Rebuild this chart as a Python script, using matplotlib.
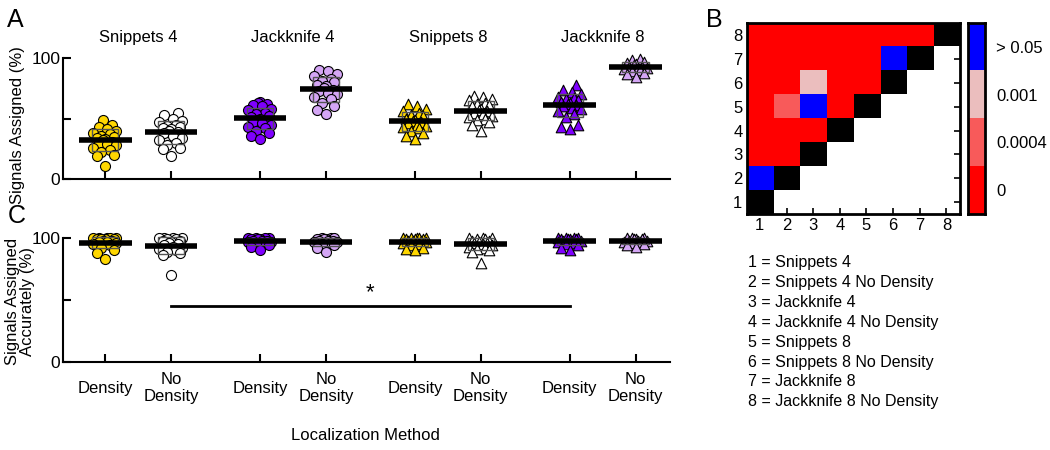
import matplotlib
matplotlib.use("Agg")
import matplotlib.pyplot as plt
import numpy as np
from matplotlib.colors import ListedColormap

plt.rcParams['font.family'] = ['Liberation Sans', 'DejaVu Sans']

# groups (order of the 8 columns)
group_names = ['Snippets 4', 'Jackknife 4', 'Snippets 8', 'Jackknife 8']
tick_labels = ['Density', 'No\nDensity'] * 4
face_colors = ['#FFD700', 'white', '#7F00FF', '#D4A6F5',
               '#FFD700', 'white', '#7F00FF', '#D4A6F5']
markers = ['o', 'o', 'o', 'o', '^', '^', '^', '^']

# panel A: signals assigned (%)
assigned_s4 = [49, 45, 43, 41, 40, 38, 37, 36, 35, 34, 33, 32, 31, 30, 29, 28, 26, 24, 22, 20, 19, 11]
assigned_s4_nd = [55, 53, 50, 48, 47, 45, 44, 43, 42, 41, 40, 39, 38, 36, 34, 32, 30, 28, 26, 25, 19]
assigned_j4 = [64, 63, 62, 61, 60, 58, 57, 55, 54, 52, 51, 50, 49, 48, 47, 46, 45, 43, 42, 40, 38, 36, 33]
assigned_j4_nd = [90, 89, 87, 85, 83, 81, 80, 78, 77, 75, 74, 73, 71, 70, 68, 66, 63, 60, 57, 54]
assigned_s8 = [62, 60, 58, 56, 55, 53, 52, 50, 49, 48, 47, 46, 45, 44, 43, 42, 40, 38, 36, 33]
assigned_s8_nd = [69, 68, 66, 65, 63, 62, 61, 60, 58, 57, 56, 55, 54, 52, 51, 50, 49, 47, 45, 40]
assigned_j8 = [78, 74, 72, 70, 68, 67, 66, 65, 64, 63, 62, 61, 60, 59, 58, 56, 54, 51, 45, 43, 41]
assigned_j8_nd = [99, 98, 97, 96, 95, 94, 93, 93, 92, 92, 91, 90, 89, 88, 87, 84]

# panel C: signals assigned accurately (%)
accurate_s4 = [100, 100, 100, 100, 100, 99, 99, 99, 99, 98, 98, 97, 97, 96, 95, 94, 92, 90, 88, 83]
accurate_s4_nd = [100, 100, 100, 100, 99, 99, 98, 98, 97, 96, 95, 94, 93, 92, 91, 90, 89, 88, 86, 70]
accurate_j4 = [100, 100, 100, 100, 99, 99, 99, 98, 98, 98, 97, 97, 96, 95, 94, 93, 90]
accurate_j4_nd = [100, 100, 100, 99, 99, 99, 98, 98, 98, 97, 97, 96, 95, 94, 92, 89]
accurate_s8 = [100, 100, 100, 100, 100, 99, 99, 99, 98, 98, 98, 97, 97, 96, 95, 94, 92, 91, 90]
accurate_s8_nd = [100, 100, 100, 99, 99, 98, 98, 97, 97, 96, 96, 95, 94, 93, 92, 91, 90, 89, 80]
accurate_j8 = [100, 100, 100, 100, 99, 99, 99, 99, 98, 98, 98, 97, 96, 95, 94, 92, 90]
accurate_j8_nd = [100, 100, 100, 99, 99, 99, 98, 98, 98, 97, 97, 96, 95, 94, 93]

assigned = [assigned_s4, assigned_s4_nd, assigned_j4, assigned_j4_nd,
            assigned_s8, assigned_s8_nd, assigned_j8, assigned_j8_nd]
accurate = [accurate_s4, accurate_s4_nd, accurate_j4, accurate_j4_nd,
            accurate_s8, accurate_s8_nd, accurate_j8, accurate_j8_nd]

# significance bar in C: between column 2 and column 7
sig_pair = (1, 6)
sig_level = 45

# panel B: pairwise p value category (rows = y 1..8, cols = x 1..8)
# 0 -> "0", 1 -> "0.0004", 2 -> "0.001", 3 -> "> 0.05", 4 -> diagonal, nan -> blank
nan = np.nan
p_matrix = [
    [4, nan, nan, nan, nan, nan, nan, nan],
    [3, 4, nan, nan, nan, nan, nan, nan],
    [0, 0, 4, nan, nan, nan, nan, nan],
    [0, 0, 0, 4, nan, nan, nan, nan],
    [0, 1, 3, 0, 4, nan, nan, nan],
    [0, 0, 2, 0, 0, 4, nan, nan],
    [0, 0, 0, 0, 0, 3, 4, nan],
    [0, 0, 0, 0, 0, 0, 0, 4],
]
p_labels = ['0', '0.0004', '0.001', '> 0.05']
p_colors = ['#FF0000', '#F85A5A', '#EBBEBE', '#0000FF']
legend_lines = ['1 = Snippets 4', '2 = Snippets 4 No Density', '3 = Jackknife 4',
                '4 = Jackknife 4 No Density', '5 = Snippets 8', '6 = Snippets 8 No Density',
                '7 = Jackknife 8', '8 = Jackknife 8 No Density']

xpos = np.array([0, 1, 2.35, 3.35, 4.7, 5.7, 7.05, 8.05])
pattern = np.array([0.0, -0.13, 0.13, -0.06, 0.07, -0.18, 0.17, 0.03, -0.1, 0.1, -0.03])


def spread(vals):
    order = np.argsort(vals)
    offs = np.zeros(len(vals))
    offs[order] = pattern[np.arange(len(vals)) % len(pattern)]
    return offs


def draw_groups(ax, data):
    for i, vals in enumerate(data):
        vals = np.array(vals, dtype=float)
        m, sd = vals.mean(), vals.std()
        x0 = xpos[i]
        ax.add_patch(plt.Rectangle((x0 - 0.2, m - sd), 0.4, 2 * sd, facecolor='#E6E6E6',
                                   edgecolor='none', zorder=1, clip_on=False))
        ax.scatter(x0 + spread(vals), vals, s=52 if markers[i] == 'o' else 58, marker=markers[i],
                   facecolor=face_colors[i], edgecolor='black', linewidth=0.8, zorder=2, clip_on=False)
        ax.add_patch(plt.Rectangle((x0 - 0.2, m - sd), 0.4, 2 * sd, facecolor='none',
                                   edgecolor='#555555', linewidth=1, zorder=3, clip_on=False))
        ax.plot([x0 - 0.4, x0 + 0.4], [m, m], color='black', linewidth=4, solid_capstyle='butt', zorder=4)


def style_axis(ax):
    ax.set_xlim(-0.64, 8.57)
    ax.set_ylim(0, 100)
    ax.spines['top'].set_visible(False)
    ax.spines['right'].set_visible(False)
    ax.spines['left'].set_linewidth(1.5)
    ax.spines['bottom'].set_linewidth(1.5)
    ax.set_yticks([0, 50, 100])
    ax.set_yticklabels(['0', '', '100'], fontsize=12.5)
    ax.set_xticks(xpos)
    ax.tick_params(direction='in', length=6, width=1.5, pad=2)


fig = plt.figure(figsize=(10.5, 4.5), dpi=100)

# panel A
axA = fig.add_axes([0.060, 0.602, 0.578, 0.269])
draw_groups(axA, assigned)
style_axis(axA)
axA.set_xticklabels([])
for k, name in enumerate(group_names):
    axA.text((xpos[2 * k] + xpos[2 * k + 1]) / 2, 1.17, name, transform=axA.get_xaxis_transform(),
             ha='center', va='center', fontsize=12)
fig.text(0.017, 0.722, 'Signals Assigned (%)', rotation=90, ha='center', va='center', fontsize=12)
fig.text(0.007, 0.955, 'A', fontsize=18, ha='left', va='center')

# panel C
axC = fig.add_axes([0.060, 0.196, 0.578, 0.275])
draw_groups(axC, accurate)
style_axis(axC)
axC.set_xticklabels(tick_labels, fontsize=12)
for lab in axC.get_xticklabels():
    lab.set_verticalalignment('center')
axC.tick_params(axis='x', pad=19)
a, b = sig_pair
axC.plot([xpos[a], xpos[b]], [sig_level, sig_level], color='black', linewidth=2)
axC.text((xpos[a] + xpos[b]) / 2, sig_level + 2, '*', ha='center', va='bottom', fontsize=16)
fig.text(0.019, 0.331, 'Signals Assigned\nAccurately (%)', rotation=90, ha='center', va='center',
         fontsize=12, multialignment='center', linespacing=1.0)
fig.text(0.348, 0.033, 'Localization Method', ha='center', va='center', fontsize=12)
fig.text(0.007, 0.52, 'C', fontsize=18, ha='left', va='center')

# panel B
axB = fig.add_axes([0.711, 0.524, 0.203, 0.425])
cmap = ListedColormap(p_colors + ['black'])
cmap.set_bad('white')
axB.imshow(np.ma.masked_invalid(np.array(p_matrix, dtype=float)), origin='lower', cmap=cmap,
           vmin=-0.5, vmax=4.5, aspect='auto', extent=(0.5, 8.5, 0.5, 8.5))
axB.set_xticks(range(1, 9))
axB.set_yticks(range(1, 9))
axB.tick_params(labelsize=12, direction='in', length=4, width=1.2, right=True, left=False, pad=3)
for s in axB.spines.values():
    s.set_linewidth(2)
fig.text(0.672, 0.955, 'B', fontsize=18, ha='left', va='center')

cax = fig.add_axes([0.922, 0.524, 0.016, 0.425])
cax.imshow(np.arange(4).reshape(4, 1), origin='lower', cmap=ListedColormap(p_colors), aspect='auto',
           extent=(0, 1, -0.5, 3.5))
cax.set_xticks([])
cax.yaxis.tick_right()
cax.set_yticks(range(4))
cax.set_yticklabels(p_labels, fontsize=12)
cax.tick_params(length=0, pad=8)
for s in cax.spines.values():
    s.set_linewidth(2)

for i, line in enumerate(legend_lines):
    fig.text(0.712, 1 - (263 + i * 19.8) / 450, line, ha='left', va='center', fontsize=11.5)

fig.savefig('out.png', dpi=100)
